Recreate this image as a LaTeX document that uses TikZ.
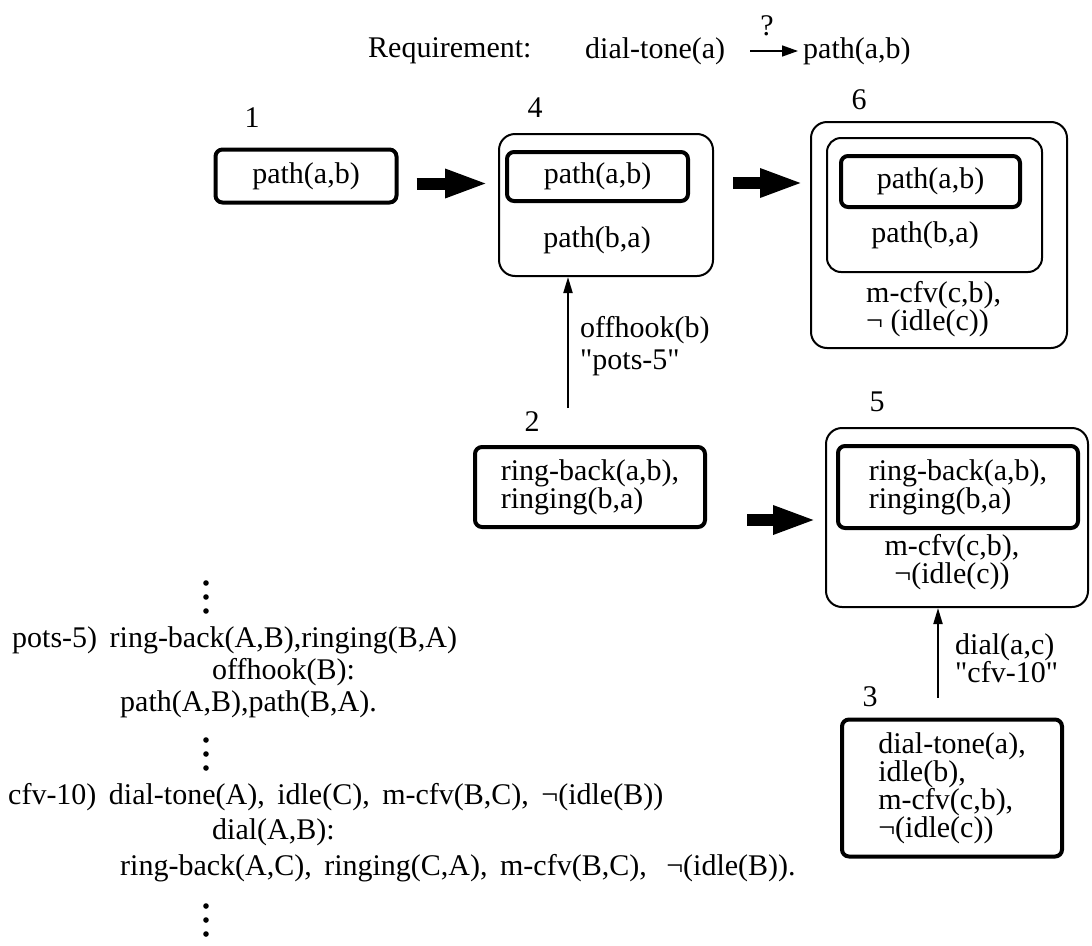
\documentclass[tikz,border=0pt]{standalone}
\usepackage{fontspec}
\setmainfont{Liberation Serif}[Ligatures=TeXOff]
\usetikzlibrary{arrows.meta}

\tikzset{
	every node/.style={font=\fontsize{30}{28}\selectfont, inner sep=0pt},
	thickbox/.style={draw, line width=4pt, rounded corners=7pt, align=left},
	roundbox/.style={draw, line width=2pt, rounded corners=16pt},
	bigarrow/.style={line width=12pt, -{Triangle[length=44pt,width=26pt]}},
	rule/.style={anchor=west, font={\fontsize{30}{28}\selectfont\spaceskip 12.5pt\relax}},
}

\begin{document}
\begin{tikzpicture}[x=1pt, y=-1pt, >={Triangle[length=16pt,width=9pt]}]
	\useasboundingbox (0,0) rectangle (1092,945);
	% requirement
	\node[anchor=west] (req) at (368,51) {Requirement:};
	\node[anchor=west] (dt) at (585,51) {dial-tone(a)};
	\node[anchor=west] (pab) at (803,51) {path(a,b)};
	\node (q) at (767,26) {?};
	\draw[->, line width=1.5pt, >={Triangle[length=16pt,width=11pt]}, shorten <=25pt, shorten >=5pt] (dt) -- (pab);

	% state 1
	\node (n1) at (252,118) {1};
	\node[thickbox, minimum width=181pt, minimum height=53pt] (b1) at (306,176) {path(a,b)};

	% state 4
	\node (n4) at (535,108) {4};
	\node[roundbox, minimum width=214pt, minimum height=142pt] (b4) at (606,205) {};
	\node[thickbox, minimum width=181pt, minimum height=49pt] (b4in) at (597.5,176.5) {path(a,b)};
	\node (b4t) at (597,240) {path(b,a)};

	% state 6
	\node (n6) at (859,100) {6};
	\node[roundbox, minimum width=256pt, minimum height=226pt] (b6) at (939,235) {};
	\node[roundbox, rounded corners=14pt, minimum width=215pt, minimum height=134pt] (b6mid) at (934.5,205) {};
	\node[thickbox, minimum width=179pt, minimum height=51pt] (b6in) at (930.5,181.5) {path(a,b)};
	\node (b6t) at (925,235) {path(b,a)};
	\node[anchor=west, align=left] (b6r) at (866,309) {m-cfv(c,b),\\¬ (idle(c))};

	% state 2
	\node (n2) at (532,422) {2};
	\node[thickbox, minimum width=230pt, minimum height=80pt] (b2) at (590,487) {ring-back(a,b),\\ringing(b,a)};

	% state 5
	\node (n5) at (877,402) {5};
	\node[roundbox, minimum width=262pt, minimum height=179pt] (b5) at (957,517.5) {};
	\node[thickbox, minimum width=240pt, minimum height=82pt] (b5in) at (958,487) {ring-back(a,b),\\ringing(b,a)};
	\node[align=center] (b5t) at (952,562) {m-cfv(c,b),\\¬(idle(c))};

	% state 3
	\node (n3) at (870,697) {3};
	\node[thickbox, minimum width=220pt, minimum height=137pt] (b3) at (952,788) {dial-tone(a),\\idle(b),\\m-cfv(c,b),\\¬(idle(c))};

	% transitions
	\draw[bigarrow, shorten <=18pt, shorten >=9pt] ([yshift=-7.5pt]b1.east) -- ([yshift=-7.5pt]b1.east -| b4.west);
	\draw[bigarrow, shorten <=19pt, shorten >=6pt] ([yshift=22pt]b4.east) -- ([yshift=22pt]b4.east -| b6.west);
	\draw[bigarrow, shorten <=40pt, shorten >=8pt] ([yshift=-33pt]b2.east) -- ([yshift=-33pt]b2.east -| b5.west);
	\draw[->, line width=2pt, shorten <=37pt] ([xshift=-38pt]b4.south |- b2.north) -- ([xshift=-38pt]b4.south);
	\node[anchor=west, align=left, font=\fontsize{30}{32}\selectfont] (l24) at (580,346) {offhook(b)\\"pots-5"};
	\draw[->, line width=2pt, shorten <=20pt] ([xshift=-19pt]b5.south |- b3.north) -- ([xshift=-19pt]b5.south);
	\node[anchor=west, align=left] (l53) at (955,658) {dial(a,c)\\"cfv-10"};

	% rules
	\foreach \y in {583,597,611, 740,754,768, 906,920,934}
		\fill (206,\y) circle (2.8pt);
	\node[rule] (p5) at (12,640) {pots-5) ring-back(A,B),ringing(B,A)};
	\node[rule] (p5b) at (212,672) {offhook(B):};
	\node[rule] (p5c) at (120,704) {path(A,B),path(B,A).};
	\node[rule] (c10) at (8,797) {cfv-10) dial-tone(A), idle(C), m-cfv(B,C), ¬(idle(B))};
	\node[rule] (c10b) at (212,832) {dial(A,B):};
	\node[rule] (c10c) at (120,868) {ring-back(A,C), ringing(C,A), m-cfv(B,C),\hspace{7pt} ¬(idle(B)).};
\end{tikzpicture}
\end{document}
